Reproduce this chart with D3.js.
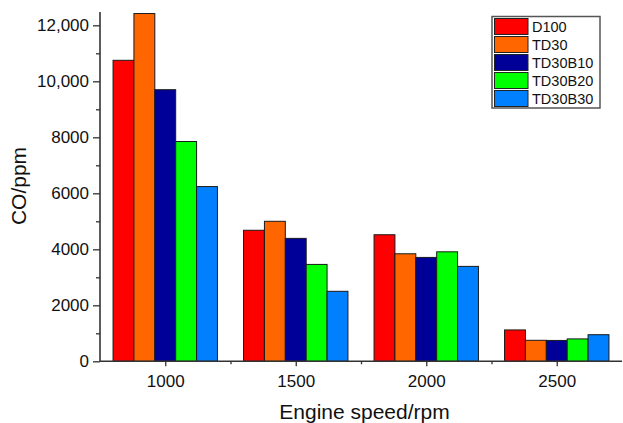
<!DOCTYPE html>
<html><head><meta charset="utf-8">
<script src="https://cdn.jsdelivr.net/npm/d3@7"></script>
<style>body{margin:0;background:#fff;} svg{display:block;font-family:"Liberation Sans",Arial,Helvetica,sans-serif;}</style>
</head><body>
<svg id="chart" width="623" height="423"></svg>
<script>
const speeds = [1000, 1500, 2000, 2500];
const seriesNames = ["D100", "TD30", "TD30B10", "TD30B20", "TD30B30"];
const D100 = [10750, 4680, 4520, 1120];
const TD30 = [12420, 5000, 3840, 750];
const TD30B10 = [9700, 4390, 3710, 745];
const TD30B20 = [7850, 3460, 3910, 800];
const TD30B30 = [6240, 2500, 3390, 950];
const seriesValues = [D100, TD30, TD30B10, TD30B20, TD30B30];
const colors = ["#ff0000", "#ff6600", "#000099", "#00ff00", "#0080ff"];
const yTicks = [0, 2000, 4000, 6000, 8000, 10000, 12000];
const yMinor = [1000, 3000, 5000, 7000, 9000, 11000];
const xTicks = [1000, 1500, 2000, 2500];
const xMinor = [1250, 1750, 2250];

(function () {
const svg = d3.select("#chart");
const mLeft = 100, mRight = 622, mTop = 12, mBottom = 361.3;
const x = d3.scaleLinear().domain([750, 2750]).range([mLeft, mRight]);
const y = d3.scaleLinear().domain([0, 12475]).range([mBottom, mTop]);
const barW = 80;

// bars
seriesValues.forEach((vals, si) => {
  svg.append("g").selectAll("rect").data(vals).join("rect")
    .attr("x", (d, i) => x(speeds[i] - 200 + si * barW))
    .attr("y", d => y(d))
    .attr("width", x(barW) - x(0))
    .attr("height", d => y(0) - y(d))
    .attr("fill", colors[si])
    .attr("stroke", "#1a1a1a")
    .attr("stroke-width", 1);
});

const fmt = v => v >= 10000 ? d3.format(",")(v) : String(v);

// y axis
const yAxis = svg.append("g").attr("transform", `translate(${mLeft},0)`)
  .call(d3.axisLeft(y).tickValues(yTicks).tickFormat(fmt).tickSize(7).tickPadding(4));
svg.append("g").attr("transform", `translate(${mLeft},0)`)
  .call(d3.axisLeft(y).tickValues(yMinor).tickFormat("").tickSize(4))
  .select(".domain").remove();
yAxis.select(".domain").attr("d", `M0,${mTop}V${mBottom}`);

// x axis
const xAxis = svg.append("g").attr("transform", `translate(0,${mBottom})`)
  .call(d3.axisBottom(x).tickValues(xTicks).tickFormat(d3.format("d")).tickSize(5).tickPadding(9));
svg.append("g").attr("transform", `translate(0,${mBottom})`)
  .call(d3.axisBottom(x).tickValues(xMinor).tickFormat("").tickSize(3))
  .select(".domain").remove();
xAxis.select(".domain").attr("d", `M${mLeft},0H${mRight}`);

svg.selectAll(".domain").attr("stroke", "#333").attr("stroke-width", 1.6);
svg.selectAll(".tick line").attr("stroke", "#333").attr("stroke-width", 1.3);
svg.selectAll(".tick text").attr("font-size", 17).attr("fill", "#111")
  .attr("font-family", "'Liberation Sans', Arial, sans-serif");

// axis titles
svg.append("text").attr("x", 364.5).attr("y", 419).attr("text-anchor", "middle")
  .attr("font-size", 21).attr("fill", "#111").text("Engine speed/rpm");
svg.append("text").attr("transform", "translate(25.5,186) rotate(-90)").attr("text-anchor", "middle")
  .attr("font-size", 21).attr("fill", "#111").text("CO/ppm");

// legend
const lg = svg.append("g");
lg.append("rect").attr("x", 492).attr("y", 16.5).attr("width", 108).attr("height", 91.5)
  .attr("fill", "#fff").attr("stroke", "#555").attr("stroke-width", 1.5);
seriesNames.forEach((name, i) => {
  const yy = 18.5 + i * 18;
  lg.append("rect").attr("x", 494.5).attr("y", yy).attr("width", 33.5).attr("height", 16)
    .attr("fill", colors[i]).attr("stroke", "#222").attr("stroke-width", 1);
  lg.append("text").attr("x", 532).attr("y", yy + 13.5).attr("font-size", 14.5).attr("fill", "#111").text(name);
});
})();
</script>
</body></html>
